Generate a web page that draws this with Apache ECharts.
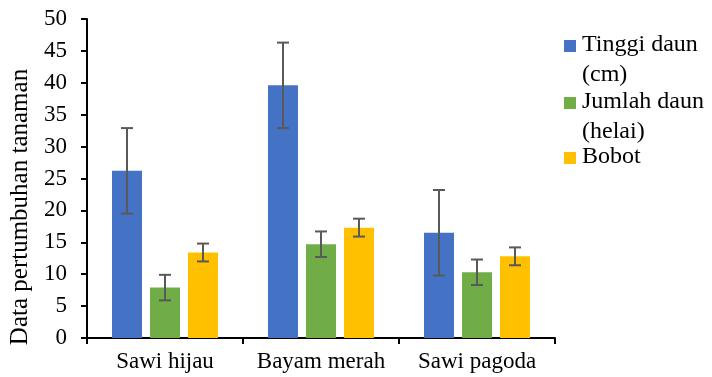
<!DOCTYPE html>
<html>
<head>
<meta charset="utf-8">
<script src="https://cdn.jsdelivr.net/npm/echarts@6/dist/echarts.min.js"></script>
<style>
html,body{margin:0;padding:0;background:#fff;}
#chart{width:712px;height:377px;}
</style>
</head>
<body>
<div id="chart"></div>
<script>
const categories = ['Sawi hijau', 'Bayam merah', 'Sawi pagoda'];
const seriesNames = ['Tinggi daun (cm)', 'Jumlah daun (helai)', 'Bobot'];
const legendLines = [['Tinggi daun', '(cm)'], ['Jumlah daun', '(helai)'], ['Bobot']];
const tinggiDaun = [26.2, 39.6, 16.5];
const tinggiDaunSD = [6.7, 6.7, 6.7];
const jumlahDaun = [7.9, 14.7, 10.3];
const jumlahDaunSD = [2.0, 2.0, 2.0];
const bobot = [13.4, 17.3, 12.8];
const bobotSD = [1.4, 1.4, 1.4];
const yTicks = [0, 5, 10, 15, 20, 25, 30, 35, 40, 45, 50];
const axisTitle = 'Data pertumbuhan tanaman';

const colors = ['#4472C4', '#70AD47', '#FFC000'];
const values = [tinggiDaun, jumlahDaun, bobot];
const sds = [tinggiDaunSD, jumlahDaunSD, bobotSD];
const barWidth = 30, barGapPx = 8;
const FONT = '"Liberation Serif", "Times New Roman", serif';

const chart = echarts.init(document.getElementById('chart'));

const series = [];
values.forEach((vals, i) => {
  series.push({
    name: seriesNames[i],
    type: 'bar',
    data: vals,
    barWidth: barWidth,
    barGap: (barGapPx / barWidth * 100) + '%',
    itemStyle: { color: colors[i] },
    z: 2
  });
});
values.forEach((vals, i) => {
  const offset = (i - 1) * (barWidth + barGapPx);
  series.push({
    type: 'custom',
    name: seriesNames[i] + ' SD',
    z: 5,
    data: vals.map((v, k) => [k, v, sds[i][k]]),
    encode: { x: 0, y: 1 },
    renderItem: function (params, api) {
      const k = api.value(0), m = api.value(1), s = api.value(2);
      const top = api.coord([k, m + s]);
      const bot = api.coord([k, m - s]);
      const x = top[0] + offset;
      const cap = 6;
      const style = { stroke: '#595959', lineWidth: 2 };
      return {
        type: 'group',
        children: [
          { type: 'line', shape: { x1: x, y1: top[1], x2: x, y2: bot[1] }, style: style },
          { type: 'line', shape: { x1: x - cap, y1: top[1], x2: x + cap, y2: top[1] }, style: style },
          { type: 'line', shape: { x1: x - cap, y1: bot[1], x2: x + cap, y2: bot[1] }, style: style }
        ]
      };
    }
  });
});

const graphics = [{
  type: 'text',
  x: 20, y: 207,
  rotation: Math.PI / 2,
  style: { text: axisTitle, font: '25px ' + FONT, fill: '#000', align: 'center', verticalAlign: 'middle' }
}];
const legendTops = [40, 97, 152];
legendLines.forEach((lines, i) => {
  graphics.push({
    type: 'rect',
    shape: { x: 564, y: legendTops[i], width: 12, height: 12 },
    style: { fill: colors[i] }
  });
  lines.forEach((ln, j) => {
    graphics.push({
      type: 'text',
      x: 582, y: legendTops[i] + 5 + j * 30,
      style: { text: ln, font: '24px ' + FONT, fill: '#000', align: 'left', verticalAlign: 'middle' }
    });
  });
});

chart.setOption({
  animation: false,
  backgroundColor: '#fff',
  grid: { left: 87, right: 157, top: 19, bottom: 39, containLabel: false },
  xAxis: {
    type: 'category',
    data: categories,
    axisLine: { lineStyle: { color: '#000', width: 2 } },
    axisTick: { show: true, length: 6, lineStyle: { color: '#000', width: 2 } },
    axisLabel: { color: '#000', fontFamily: FONT, fontSize: 23, margin: 12, interval: 0 }
  },
  yAxis: {
    type: 'value',
    min: yTicks[0],
    max: yTicks[yTicks.length - 1],
    interval: yTicks[1] - yTicks[0],
    axisLine: { show: true, lineStyle: { color: '#000', width: 2 } },
    axisTick: { show: true, length: 6, lineStyle: { color: '#000', width: 2 } },
    splitLine: { show: false },
    axisLabel: { color: '#000', fontFamily: FONT, fontSize: 23, margin: 20 }
  },
  series: series,
  graphic: graphics
});
</script>
</body>
</html>
